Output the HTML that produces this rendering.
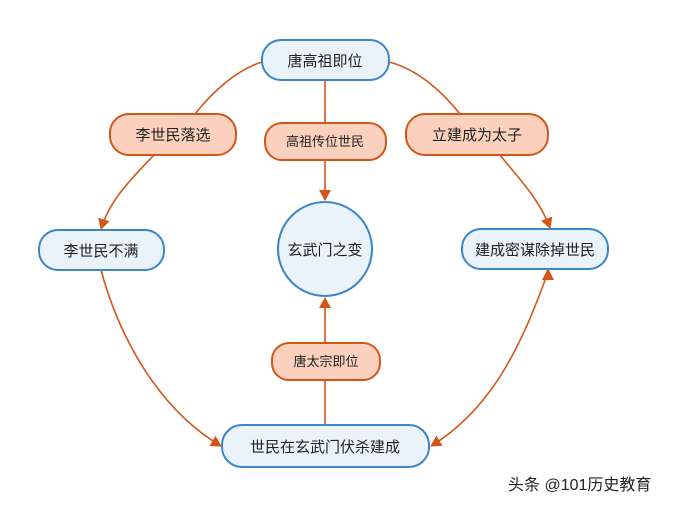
<!DOCTYPE html>
<html><head><meta charset="utf-8"><style>
body{margin:0;background:#fff;}
svg text{font-family:"Liberation Sans","Noto Sans CJK SC",sans-serif;fill:#222;}
</style></head><body>
<svg width="675" height="506" xmlns="http://www.w3.org/2000/svg">
<defs><marker id="a" markerWidth="12" markerHeight="12" refX="10" refY="6" orient="auto" markerUnits="userSpaceOnUse"><path d="M0,0 L11,6 L0,12 z" fill="#d2561a"/></marker></defs>
<g fill="none" stroke="#d2561a" stroke-width="1.6">
<path d="M262,62 C235,70 210,95 195,114"/>
<path d="M154,155 C130,180 110,200 101,229" marker-end="url(#a)"/>
<path d="M389,62 C420,70 445,95 460,114"/>
<path d="M500,155 C520,180 540,200 550,228" marker-end="url(#a)"/>
<path d="M325,80 L325,123"/>
<path d="M325,160 L325,200" marker-end="url(#a)"/>
<path d="M325,425 L325,380"/>
<path d="M325,343 L325,298" marker-end="url(#a)"/>
<path d="M101,270 C120,340 160,410 221,446" marker-end="url(#a)"/>
<path d="M548,272 C520,350 490,410 431,446" marker-end="url(#a)"/>
</g>
<path d="M548,268 L542,280 L554,280 z" fill="#d2561a"/>
<g stroke="#3a86c8" stroke-width="2" fill="#eaf2fa">
<rect x="262" y="40" width="127" height="40" rx="19"/>
<rect x="39" y="230" width="125" height="40" rx="19"/>
<rect x="462" y="229" width="146" height="40" rx="19"/>
<rect x="222" y="425" width="207" height="42" rx="20"/>
<circle cx="325" cy="249" r="47"/>
</g>
<g stroke="#d2561a" stroke-width="2" fill="#fbd0bc">
<rect x="110" y="114" width="126" height="41" rx="19"/>
<rect x="265" y="123" width="121" height="37" rx="17"/>
<rect x="406" y="114" width="142" height="41" rx="19"/>
<rect x="272" y="343" width="108" height="37" rx="17"/>
</g>
<g font-size="15" text-anchor="middle">
<text x="325" y="66">唐高祖即位</text>
<text x="173" y="140">李世民落选</text>
<text x="477" y="140">立建成为太子</text>
<text x="101" y="256">李世民不满</text>
<text x="535" y="255">建成密谋除掉世民</text>
<text x="325" y="255">玄武门之变</text>
<text x="325" y="452">世民在玄武门伏杀建成</text>
</g>
<g font-size="13" text-anchor="middle">
<text x="325" y="146">高祖传位世民</text>
<text x="326" y="366">唐太宗即位</text>
</g>
<text x="508" y="490" font-size="16">头条 @101历史教育</text>
</svg>
</body></html>
